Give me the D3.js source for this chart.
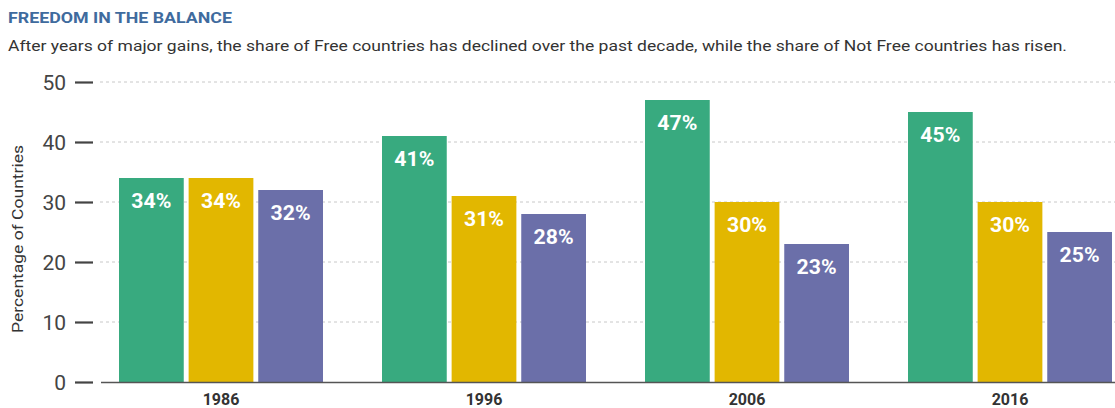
<!DOCTYPE html>
<html lang="en">
<head>
<meta charset="UTF-8">
<title>Freedom in the Balance</title>
<script src="https://d3js.org/d3.v7.min.js"></script>
<style>
  body { margin: 0; background: #fff; }
  svg { display: block; font-family: Roboto, "Liberation Sans", sans-serif; }
</style>
</head>
<body>
<svg width="1115" height="408"></svg>
<script>
// data
const years = ["1986", "1996", "2006", "2016"];
const statuses = ["Free", "Partly Free", "Not Free"];
const free = [34, 41, 47, 45];
const partlyFree = [34, 31, 30, 30];
const notFree = [32, 28, 23, 25];
const yTicks = [0, 10, 20, 30, 40, 50];

const colors = ["#38aa7f", "#e2b700", "#6b6fa9"];
const seriesValues = [free, partlyFree, notFree];

const svg = d3.select("svg");

// title and subtitle
svg.append("text")
  .attr("x", 8).attr("y", 23)
  .attr("fill", "#3f6b9e")
  .style("font-size", "15px")
  .style("font-weight", "bold")
  .attr("textLength", 224)
  .attr("lengthAdjust", "spacingAndGlyphs")
  .text("FREEDOM IN THE BALANCE");

svg.append("text")
  .attr("x", 8).attr("y", 51)
  .attr("fill", "#333")
  .style("font-size", "15px")
  .attr("textLength", 1059)
  .attr("lengthAdjust", "spacingAndGlyphs")
  .text("After years of major gains, the share of Free countries has declined over the past decade, while the share of Not Free countries has risen.");

// scales
const y = d3.scaleLinear().domain([0, 50]).range([382, 82]);
const x0 = d3.scaleBand().domain(years).range([100, 1152]).paddingInner(0.0).paddingOuter(0);
const x1 = d3.scaleBand().domain(statuses).range([19, 19 + 204]).paddingInner(0.07);

// gridlines
svg.append("g")
  .selectAll("line")
  .data(yTicks.filter(d => d > 0))
  .join("line")
  .attr("x1", 100).attr("x2", 1115)
  .attr("y1", d => y(d)).attr("y2", d => y(d))
  .attr("stroke", "#c8c8c8")
  .attr("stroke-width", 1)
  .attr("stroke-dasharray", "3,3");

// y axis
const yAxis = svg.append("g")
  .attr("transform", "translate(93,0)")
  .call(d3.axisLeft(y).tickValues(yTicks).tickSize(18).tickPadding(9));
yAxis.select(".domain").remove();
yAxis.selectAll(".tick line").attr("stroke", "#444").attr("stroke-width", 2.2);
yAxis.selectAll(".tick text")
  .attr("fill", "#444")
  .style("font-size", "21px")
  .style("font-family", "Roboto, sans-serif")
  .attr("dy", "0.35em");

svg.append("text")
  .attr("transform", "translate(23,239) rotate(-90)")
  .attr("text-anchor", "middle")
  .attr("fill", "#333")
  .style("font-size", "15px")
  .attr("textLength", 188)
  .attr("lengthAdjust", "spacingAndGlyphs")
  .text("Percentage of Countries");

// bars
const groups = svg.append("g")
  .selectAll("g")
  .data(years)
  .join("g")
  .attr("transform", d => `translate(${x0(d)},0)`);

groups.selectAll("rect")
  .data((d, i) => statuses.map((s, j) => ({ s: s, v: seriesValues[j][i], c: colors[j] })))
  .join("rect")
  .attr("x", d => x1(d.s))
  .attr("width", x1.bandwidth())
  .attr("y", d => y(d.v))
  .attr("height", d => y(0) - y(d.v))
  .attr("fill", d => d.c);

groups.selectAll("text.val")
  .data((d, i) => statuses.map((s, j) => ({ s: s, v: seriesValues[j][i] })))
  .join("text")
  .attr("class", "val")
  .attr("x", d => x1(d.s) + x1.bandwidth() / 2)
  .attr("y", d => y(d.v) + 30)
  .attr("text-anchor", "middle")
  .attr("fill", "#fff")
  .style("font-size", "20px")
  .style("font-weight", "bold")
  .attr("textLength", 40)
  .attr("lengthAdjust", "spacingAndGlyphs")
  .text(d => d.v + "%");

// baseline
svg.append("line")
  .attr("x1", 101).attr("x2", 1115)
  .attr("y1", y(0) + 0.5).attr("y2", y(0) + 0.5)
  .attr("stroke", "#555").attr("stroke-width", 1.5);

// x labels
groups.append("text")
  .attr("x", x1("Partly Free") + x1.bandwidth() / 2)
  .attr("y", 405)
  .attr("text-anchor", "middle")
  .attr("fill", "#333")
  .style("font-size", "16px")
  .style("font-weight", "bold")
  .text(d => d);
</script>
</body>
</html>
